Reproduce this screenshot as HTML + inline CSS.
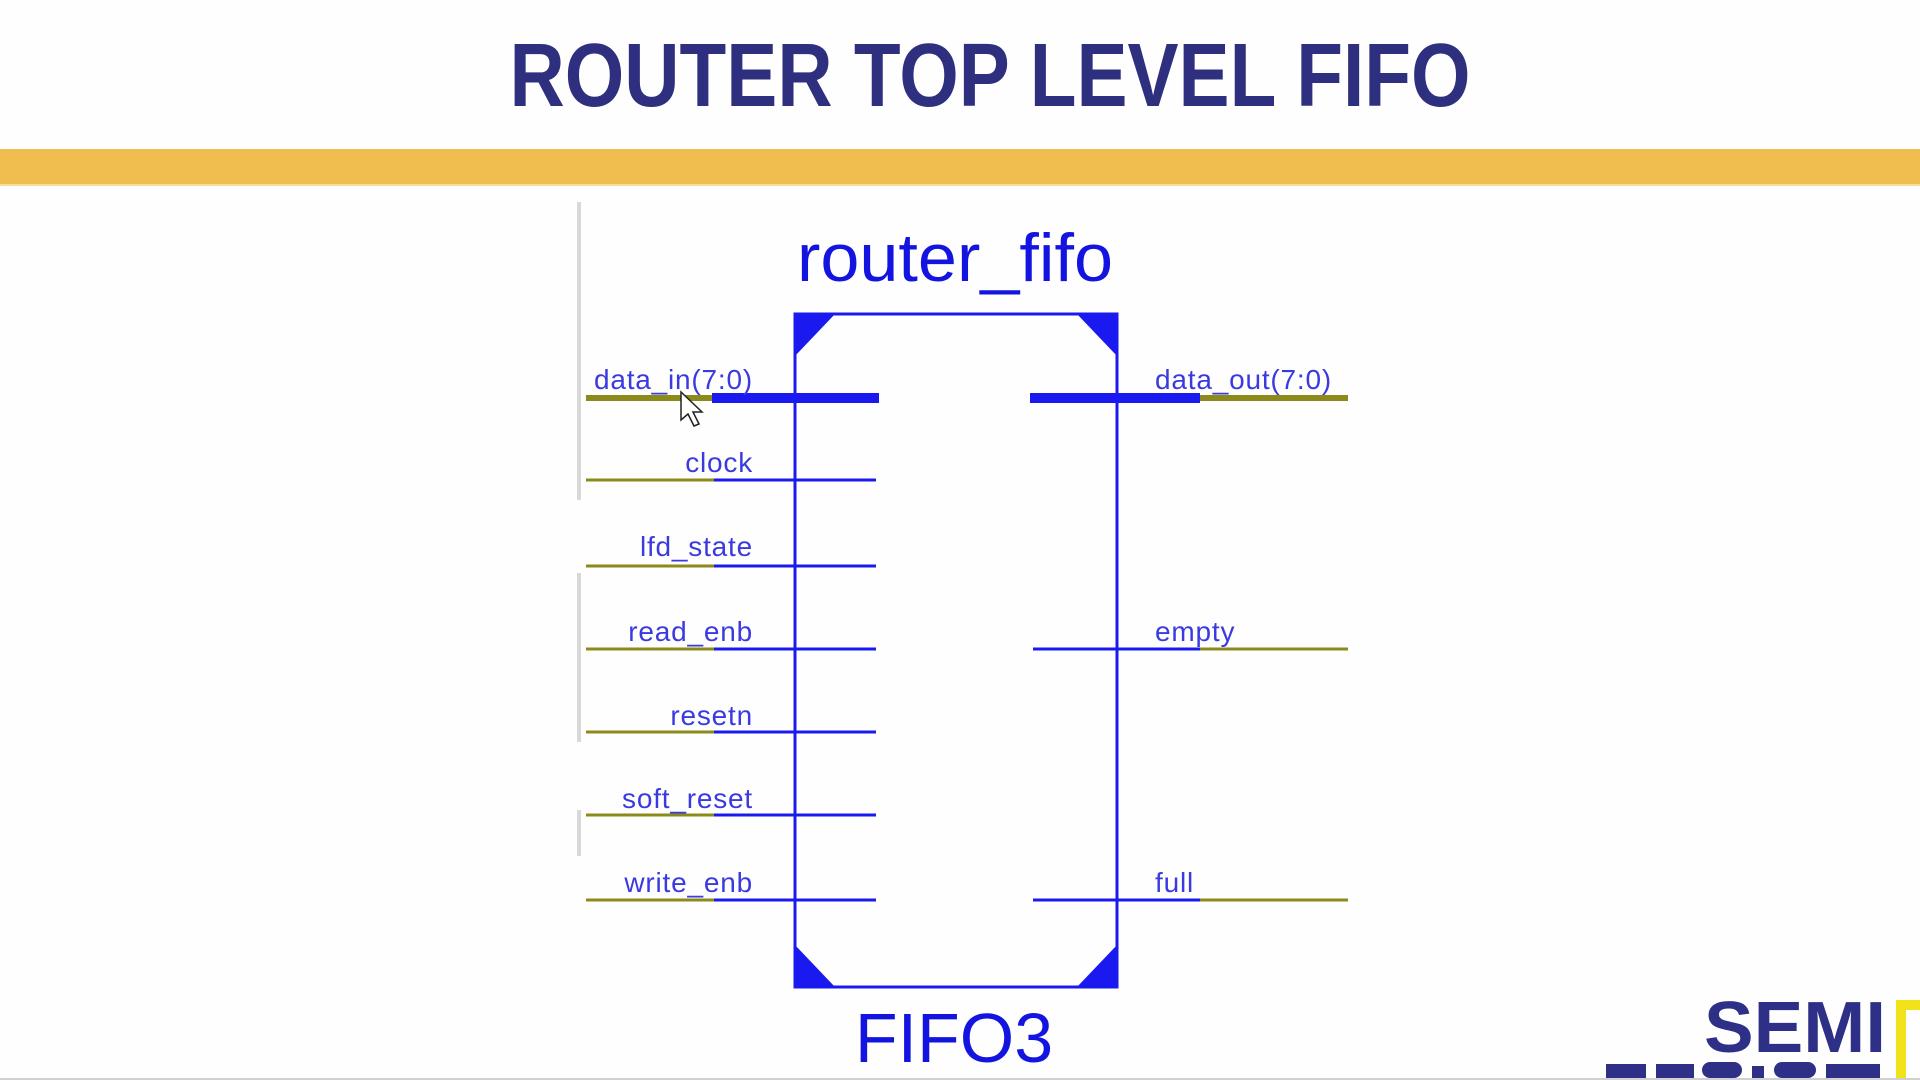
<!DOCTYPE html>
<html><head><meta charset="utf-8"><style>
html,body{margin:0;padding:0;background:#fff;width:1920px;height:1080px;overflow:hidden}
</style></head><body>
<svg width="1920" height="1080" xmlns="http://www.w3.org/2000/svg" style="display:block;overflow:hidden">
<rect width="1920" height="1080" fill="#fefefe"/>
<text x="990" y="106" text-anchor="middle" font-family="Liberation Sans, sans-serif" font-weight="bold" font-size="90" textLength="961" lengthAdjust="spacingAndGlyphs" fill="#2e2f7f">ROUTER TOP LEVEL FIFO</text>
<rect x="0" y="149" width="1920" height="35" fill="#f0bd4f"/>
<rect x="0" y="184" width="1920" height="2" fill="#f6dca0"/>
<g stroke="#d8d8d8" stroke-width="4">
<line x1="579" y1="202" x2="579" y2="500"/>
<line x1="579" y1="573" x2="579" y2="742"/>
<line x1="579" y1="810" x2="579" y2="856"/>
</g>
<text x="955" y="281" text-anchor="middle" font-family="Liberation Sans, sans-serif" font-size="68" textLength="316" lengthAdjust="spacingAndGlyphs" fill="#1414e0">router_fifo</text>
<rect x="795" y="314" width="322" height="673" fill="none" stroke="#1a1af0" stroke-width="3"/>
<g fill="#1a1af0">
<polygon points="795,314 835,314 795,356"/>
<polygon points="1117,314 1077,314 1117,356"/>
<polygon points="795,987 835,987 795,945"/>
<polygon points="1117,987 1077,987 1117,945"/>
</g>
<text x="954" y="1062" text-anchor="middle" font-family="Liberation Sans, sans-serif" font-size="70" fill="#1414e0">FIFO3</text>
<g stroke-width="3">
<line x1="586" y1="398" x2="712" y2="398" stroke="#8c8a1a" stroke-width="6"/>
<line x1="712" y1="398" x2="879" y2="398" stroke="#1a1af0" stroke-width="10"/>
<line x1="586" y1="480" x2="714" y2="480" stroke="#8c8a1a"/><line x1="714" y1="480" x2="876" y2="480" stroke="#1a1af0"/>
<line x1="586" y1="566" x2="714" y2="566" stroke="#8c8a1a"/><line x1="714" y1="566" x2="876" y2="566" stroke="#1a1af0"/>
<line x1="586" y1="649" x2="714" y2="649" stroke="#8c8a1a"/><line x1="714" y1="649" x2="876" y2="649" stroke="#1a1af0"/>
<line x1="586" y1="732" x2="714" y2="732" stroke="#8c8a1a"/><line x1="714" y1="732" x2="876" y2="732" stroke="#1a1af0"/>
<line x1="586" y1="815" x2="714" y2="815" stroke="#8c8a1a"/><line x1="714" y1="815" x2="876" y2="815" stroke="#1a1af0"/>
<line x1="586" y1="900" x2="714" y2="900" stroke="#8c8a1a"/><line x1="714" y1="900" x2="876" y2="900" stroke="#1a1af0"/>
<line x1="1030" y1="398" x2="1200" y2="398" stroke="#1a1af0" stroke-width="10"/>
<line x1="1200" y1="398" x2="1348" y2="398" stroke="#8c8a1a" stroke-width="6"/>
<line x1="1033" y1="649" x2="1200" y2="649" stroke="#1a1af0"/><line x1="1200" y1="649" x2="1348" y2="649" stroke="#8c8a1a"/>
<line x1="1033" y1="900" x2="1200" y2="900" stroke="#1a1af0"/><line x1="1200" y1="900" x2="1348" y2="900" stroke="#8c8a1a"/>
</g>
<g font-family="Liberation Sans, sans-serif" font-size="28" letter-spacing="0.8" fill="#3a3ae0">
<g text-anchor="end">
<text x="753" y="389">data_in(7:0)</text>
<text x="753" y="472">clock</text>
<text x="753" y="556">lfd_state</text>
<text x="753" y="641">read_enb</text>
<text x="753" y="725">resetn</text>
<text x="753" y="808">soft_reset</text>
<text x="753" y="892">write_enb</text>
</g>
<text x="1155" y="389">data_out(7:0)</text>
<text x="1155" y="641">empty</text>
<text x="1155" y="892">full</text>
</g>
<polygon points="681,392 681,420 688,414 694,426 699,424 693,412 702,412" fill="#fff" stroke="#222" stroke-width="1.5"/>
<text x="1704" y="1052" font-family="Liberation Sans, sans-serif" font-weight="bold" font-size="72" textLength="182" lengthAdjust="spacingAndGlyphs" fill="#2e2f86">SEMI</text>
<!-- tops of cut-off second logo line -->
<g fill="#2e2f86">
<rect x="1606" y="1064" width="40" height="14"/>
<rect x="1656" y="1064" width="38" height="14"/>
<rect x="1702" y="1062" width="40" height="16" rx="8"/>
<rect x="1752" y="1066" width="12" height="12"/>
<rect x="1774" y="1062" width="42" height="16" rx="8"/>
<rect x="1826" y="1064" width="54" height="14"/>
</g>
<rect x="1896" y="1000" width="24" height="78" fill="#f2e21a"/>
<rect x="1906" y="1010" width="14" height="68" fill="#fff"/>
<rect x="0" y="1078" width="1920" height="2" fill="#d0d0d0"/>
</svg>
</body></html>
